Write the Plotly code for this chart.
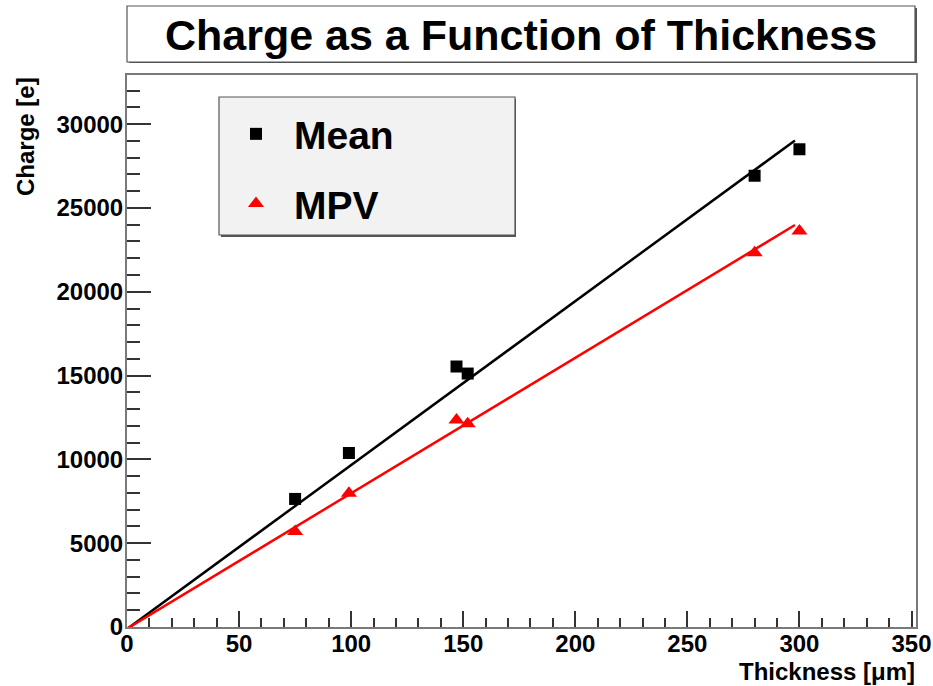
import numpy as np
import plotly.graph_objects as go

# ---- data ----
thickness = [75, 99, 147, 152, 280, 300]
mean_charge = [7640, 10380, 15540, 15120, 26920, 28500]
mpv_charge = [5700, 7980, 12350, 12120, 22330, 23620]

fit_range = [0, 298]
mean_fit = {"slope": 97.8, "intercept": -120}
mpv_fit = {"slope": 80.8, "intercept": -100}

x_range = [0, 352]
y_range = [0, 32930]

FONT = "Liberation Sans"

fx = np.array(fit_range, dtype=float)

fig = go.Figure()
fig.add_trace(go.Scatter(x=fx, y=mean_fit["slope"] * fx + mean_fit["intercept"],
                         mode="lines", line=dict(color="black", width=2.5),
                         showlegend=False, hoverinfo="skip"))
fig.add_trace(go.Scatter(x=fx, y=mpv_fit["slope"] * fx + mpv_fit["intercept"],
                         mode="lines", line=dict(color="#ff0000", width=2.5),
                         showlegend=False, hoverinfo="skip"))
fig.add_trace(go.Scatter(x=thickness, y=mean_charge, mode="markers", name="Mean",
                         legendgroup="a",
                         marker=dict(symbol="square", size=12, color="black")))
fig.add_trace(go.Scatter(x=thickness, y=mpv_charge, mode="markers", name="MPV",
                         legendgroup="b",
                         marker=dict(symbol="triangle-up", size=14, color="#ff0000")))

W, H = 933, 686
L, R, T, B = 127, 916, 75, 627


def px(xp):
    return (xp - L) / (R - L)


def py(yp):
    return (B - yp) / (B - T)


axis_common = dict(
    showgrid=False, zeroline=False, showline=True, mirror=True, automargin=False,
    linecolor="#7a7a7a", linewidth=2, ticks="inside", tickcolor="#333333",
    tickwidth=1.5, tickformat="d",
    tickfont=dict(family=FONT, size=24, color="black", weight="bold"),
)

fig.update_layout(
    width=W, height=H,
    margin=dict(l=L, r=W - R, t=T, b=H - B),
    paper_bgcolor="white", plot_bgcolor="white",
    xaxis=dict(range=x_range, dtick=50, tick0=0, ticklen=16, ticklabelstandoff=-6,
               minor=dict(dtick=10, ticklen=9, ticks="inside", tickcolor="#333333", tickwidth=1.5),
               **axis_common),
    yaxis=dict(range=y_range, dtick=5000, tick0=0, ticklen=24, ticklabelstandoff=-3,
               minor=dict(dtick=1000, ticklen=13, ticks="inside", tickcolor="#333333", tickwidth=1.5),
               **axis_common),
    showlegend=True,
    legend=dict(x=px(218), y=py(102), xanchor="left", yanchor="top",
                bgcolor="rgba(0,0,0,0)", borderwidth=0,
                font=dict(family=FONT, size=39, color="black", weight="bold"),
                itemwidth=66, tracegroupgap=16, itemsizing="trace"),
    shapes=[
        # title box shadow + box
        dict(type="rect", xref="paper", yref="paper", x0=px(129), x1=px(917), y0=py(8), y1=py(63),
             line=dict(width=0), fillcolor="#555555", layer="below"),
        dict(type="rect", xref="paper", yref="paper", x0=px(127), x1=px(915), y0=py(6), y1=py(62),
             line=dict(color="#555555", width=1.2), fillcolor="white", layer="below"),
        # legend box shadow + box
        dict(type="rect", xref="paper", yref="paper", x0=px(221), x1=px(516), y0=py(99), y1=py(237),
             line=dict(width=0), fillcolor="#555555", layer="above"),
        dict(type="rect", xref="paper", yref="paper", x0=px(219), x1=px(515), y0=py(97), y1=py(235),
             line=dict(color="#555555", width=1.2), fillcolor="#f2f2f2", layer="above"),
    ],
    annotations=[
        dict(text="Charge as a Function of Thickness", xref="paper", yref="paper",
             x=px(521), y=py(35), xanchor="center", yanchor="middle", showarrow=False,
             font=dict(family=FONT, size=43, color="black", weight="bold")),
        dict(text="Charge [e]", xref="paper", yref="paper", x=px(25), y=py(137),
             xanchor="center", yanchor="middle", textangle=-90, showarrow=False,
             font=dict(family=FONT, size=24, color="black", weight="bold")),
        dict(text="Thickness [μm]", xref="paper", yref="paper", x=px(917), y=py(671),
             xanchor="right", yanchor="middle", showarrow=False,
             font=dict(family=FONT, size=24, color="black", weight="bold")),
    ],
)

fig.write_html("out.html")
